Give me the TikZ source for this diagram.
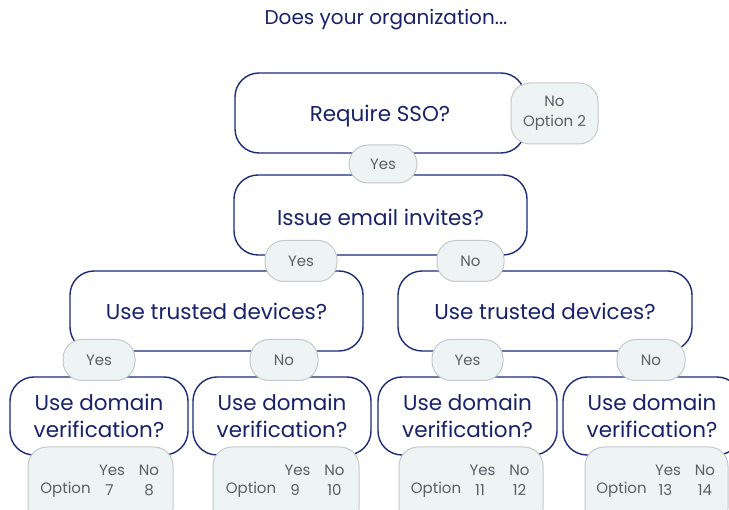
\documentclass[tikz,border=0pt]{standalone}
\usepackage{fontspec}
\setmainfont{Poppins}
\definecolor{navy}{HTML}{1C2A78}
\definecolor{navytext}{HTML}{18226A}
\definecolor{pillfill}{HTML}{EEF3F3}
\definecolor{pillline}{HTML}{C4C9CA}
\definecolor{pilltext}{HTML}{5A5F66}
\tikzset{
  qbox/.style={draw=navy, line width=1.4pt, fill=white, rounded corners=24pt, align=center,
    text=navytext, font=\fontsize{21.5}{27.5}\selectfont, inner sep=0pt},
  qtext/.style={text=navytext, font=\fontsize{21.5}{27.5}\selectfont, inner sep=0pt, align=center},
  pill/.style={draw=pillline, line width=1pt, fill=pillfill, rounded corners=19pt, align=center,
    text=pilltext, font=\fontsize{15}{20}\selectfont, inner sep=0pt},
  ptext/.style={text=pilltext, font=\fontsize{15}{18}\selectfont, inner sep=0pt},
}
\begin{document}
\begin{tikzpicture}[x=1pt,y=-1pt]
\useasboundingbox (0,0) rectangle (729,510);
\clip (0,0) rectangle (729,510);
\node[text=navytext, font=\fontsize{20}{24}\selectfont] (title) at (386,20) {Does your organization...};
% question boxes
\node[qbox, minimum width=290pt, minimum height=80pt] (q1) at (380,113) {};
\node[qtext] (q1t) at ([yshift=-3pt]q1.center) {Require SSO?};
\node[qbox, minimum width=293pt, minimum height=80pt] (q2) at (380.5,215) {};
\node[qtext] (q2t) at ([yshift=-2pt]q2.center) {Issue email invites?};
\node[qbox, minimum width=293pt, minimum height=80pt] (q3l) at (216.5,311) {Use trusted devices?};
\node[qbox, minimum width=294pt, minimum height=80pt] (q3r) at (545,311) {Use trusted devices?};
\node[qbox, minimum width=178pt, minimum height=78pt] (q4a) at (99,416) {Use domain\\verification?};
\node[qbox, minimum width=178pt, minimum height=78pt] (q4b) at (282,416) {Use domain\\verification?};
\node[qbox, minimum width=179pt, minimum height=78pt] (q4c) at (467.5,416) {Use domain\\verification?};
\node[qbox, minimum width=178pt, minimum height=78pt] (q4d) at (652,416) {Use domain\\verification?};
% answer pills
\node[pill, minimum width=87pt, minimum height=61pt] (n1) at (554.5,113.5) {No\\Option 2};
\node[pill, minimum width=68pt, minimum height=38pt] (y1) at (383,164) {Yes};
\node[pill, minimum width=72pt, minimum height=41pt] (y2) at (301,261) {Yes};
\node[pill, minimum width=67pt, minimum height=41pt] (n2) at (470.5,261) {No};
\node[pill, minimum width=72pt, minimum height=41pt] (y3l) at (99,360) {Yes};
\node[pill, minimum width=68pt, minimum height=41pt] (n3l) at (284,360) {No};
\node[pill, minimum width=71pt, minimum height=41pt] (y3r) at (467.5,360) {Yes};
\node[pill, minimum width=68pt, minimum height=41pt] (n3r) at (651,360) {No};
% option pills
\foreach \nm/\cx/\w/\a/\b in {oa/100.5/145/7/8, ob/286/146/9/10, oc/471/144/11/12, od/656.5/143/13/14}{
  \node[pill, minimum width=\w pt, minimum height=80pt] (\nm) at (\cx,487) {};
  \node[ptext] (\nm-opt) at ([xshift=-35pt,yshift=-3pt]\nm.center) {Option};
  \node[ptext] (\nm-yes) at ([xshift=11.5pt,yshift=17pt]\nm.center) {Yes};
  \node[ptext] (\nm-no) at ([xshift=48.5pt,yshift=17pt]\nm.center) {No};
  \node[ptext] (\nm-a) at ([xshift=9pt,yshift=-3pt]\nm.center) {\a};
  \node[ptext] (\nm-b) at ([xshift=48.5pt,yshift=-3pt]\nm.center) {\b};
}
\end{tikzpicture}
\end{document}
